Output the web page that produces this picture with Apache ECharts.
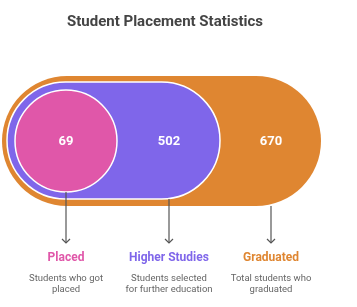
<!DOCTYPE html>
<html><head><meta charset="utf-8">
<script src="https://cdn.jsdelivr.net/npm/echarts@6/dist/echarts.min.js"></script>
<style>html,body{margin:0;padding:0;background:#fff}#c{width:357px;height:307px}</style>
</head><body><div id="c"></div>
<script>
var categories = ['Placed', 'Higher Studies', 'Graduated'];
var values = [69, 502, 670];
var descriptions = ['Students who got\nplaced', 'Students selected\nfor further education', 'Total students who\ngraduated'];
var colors = ['#e057a9', '#7f66ea', '#df8631'];

// layout (pixel geometry of the nested shapes)
var layout = [
  {type: 'circle', cx: 66, cy: 141, r: 51, labelX: 66, bottom: 192, z: 3},
  {type: 'capsule', x: 7, y: 82, w: 213, h: 117, labelX: 169, bottom: 199, z: 2},
  {type: 'capsule', x: 2, y: 76, w: 319, h: 130, labelX: 271, bottom: 206, z: 1}
];
var arrowY = 243;

var chart = echarts.init(document.getElementById('c'), null, {renderer: 'canvas'});
var data = categories.map(function (c, i) { return {name: c, value: values[i]}; });

chart.setOption({
  animation: false,
  title: {
    text: 'Student Placement Statistics', left: 62, top: 10,
    textStyle: {fontFamily: 'Roboto', fontSize: 15, fontWeight: 'bold', color: '#444'}
  },
  series: [{
    type: 'custom',
    coordinateSystem: 'none',
    data: data,
    renderItem: function (params, api) {
      var i = params.dataIndex;
      var L = layout[i];
      var col = colors[i];
      var shape;
      if (L.type === 'circle') {
        shape = {type: 'circle', z2: L.z, shape: {cx: L.cx, cy: L.cy, r: L.r},
          style: {fill: col, stroke: i === 2 ? null : '#fff', lineWidth: 1.5}};
      } else {
        shape = {type: 'rect', z2: L.z, shape: {x: L.x, y: L.y, width: L.w, height: L.h, r: L.h / 2},
          style: {fill: col, stroke: i === 2 ? null : '#fff', lineWidth: 1.5}};
      }
      var x = L.labelX;
      return {
        type: 'group',
        children: [
          shape,
          {type: 'text', z2: 20, style: {text: String(api.value(0)), x: x, y: 142, align: 'center', verticalAlign: 'middle',
            fill: '#fff', font: 'bold 13px Roboto'}},
          {type: 'line', z2: 20, shape: {x1: x, y1: L.bottom, x2: x, y2: arrowY},
            style: {stroke: '#555', lineWidth: 1.2}},
          {type: 'polyline', z2: 20, shape: {points: [[x - 4, arrowY - 4], [x, arrowY], [x + 4, arrowY - 4]]},
            style: {stroke: '#555', lineWidth: 1.2, fill: null}},
          {type: 'text', z2: 20, style: {text: categories[i], x: x, y: 258, align: 'center', verticalAlign: 'middle',
            fill: col, font: 'bold 12px Roboto'}},
          {type: 'text', z2: 20, style: {text: descriptions[i], x: x, y: 273, align: 'center', verticalAlign: 'top',
            fill: '#666', font: '9.5px Roboto', lineHeight: 11}}
        ]
      };
    }
  }]
});
</script></body></html>
